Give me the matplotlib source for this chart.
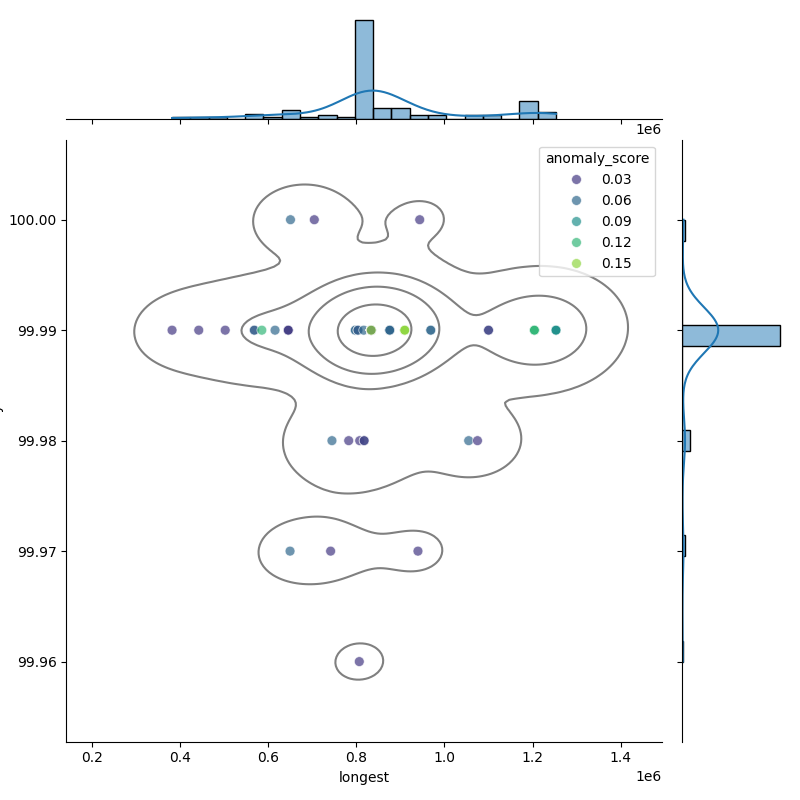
import matplotlib
matplotlib.use('Agg')
import numpy as np
import pandas as pd
import seaborn as sns
import matplotlib.pyplot as plt

# distinct points; repeats = how many rows sit on the same spot
longest = [382500, 443000, 503000, 569000, 569000, 586000, 616000, 646000, 646000,
           798000, 804000, 804000, 817000, 834000, 834000, 834000,
           876000, 876000, 910000, 969000, 1100000, 1100000, 1204000, 1253000,
           651000, 705000, 944000,
           745000, 783000, 808000, 818000, 818000, 1055000, 1075000,
           650000, 742000, 940000,
           807000]
availability = [99.99] * 24 + [100.00] * 3 + [99.98] * 7 + [99.97] * 3 + [99.96]
anomaly_score = [0.03, 0.03, 0.03, 0.03, 0.06, 0.12, 0.06, 0.06, 0.03,
                 0.06, 0.03, 0.06, 0.06, 0.06, 0.03, 0.15,
                 0.03, 0.06, 0.15, 0.06, 0.06, 0.03, 0.12, 0.09,
                 0.06, 0.03, 0.03,
                 0.06, 0.03, 0.03, 0.06, 0.03, 0.06, 0.03,
                 0.06, 0.03, 0.03,
                 0.03]
repeats = [1, 1, 1, 1, 1, 1, 1, 1, 2,
           2, 1, 1, 1, 25, 22, 1,
           3, 3, 6, 2, 1, 1, 10, 4,
           1, 1, 1,
           1, 1, 1, 1, 1, 1, 1,
           1, 1, 1,
           1]

df = pd.DataFrame({
    'longest': np.repeat(longest, repeats),
    'availability': np.repeat(availability, repeats),
    'anomaly_score': pd.Categorical(np.repeat(anomaly_score, repeats)),
})

g = sns.JointGrid(data=df, x='longest', y='availability', height=8)
g.plot_joint(sns.scatterplot, hue=df['anomaly_score'], palette='viridis', alpha=0.7, s=50)
g.plot_joint(sns.kdeplot, color='gray', levels=5)
g.plot_marginals(sns.histplot, kde=True, bins=21)

g.figure.savefig('out.png', dpi=100)
